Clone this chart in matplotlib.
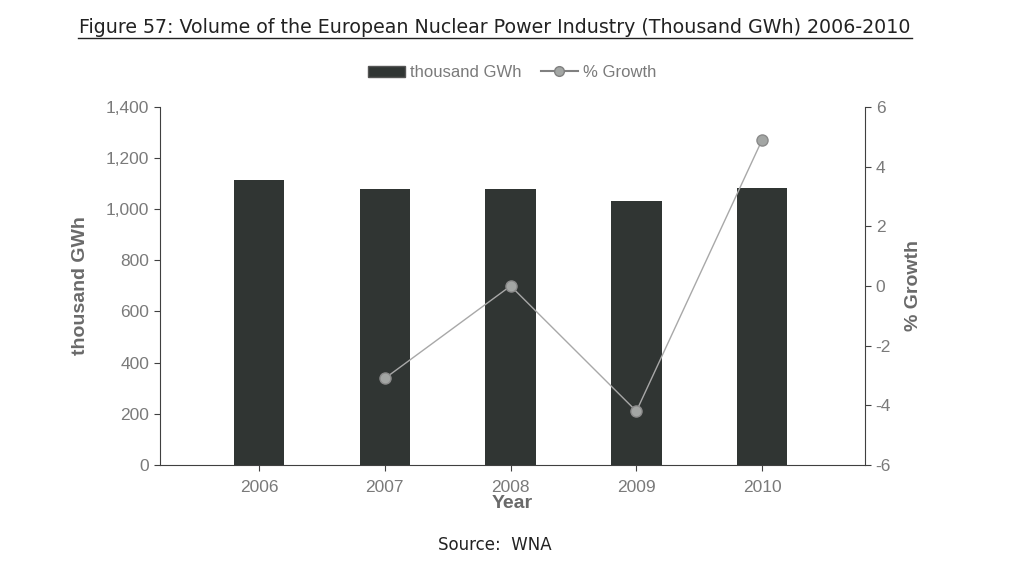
import matplotlib.pyplot as plt
from matplotlib.lines import Line2D
from matplotlib.patches import Patch
import numpy as np

plt.rcParams['axes.unicode_minus'] = False

years = ['2006', '2007', '2008', '2009', '2010']
volume = [1115, 1079, 1078, 1034, 1083]
growth_years = ['2007', '2008', '2009', '2010']
growth = [-3.1, 0.0, -4.2, 4.9]

bar_col = '#303533'
pt_col = '#a3a6a4'
txt_col = '#7a7a7a'
spine_col = '#404040'
chart_font = 'Liberation Sans'

fig = plt.figure(figsize=(10.24, 5.69), dpi=100)
ax = fig.add_axes([0.156, 0.183, 0.689, 0.629])
x = np.arange(len(years))
ax.bar(x, volume, width=0.4, color=bar_col, zorder=2)
ax.set_xlim(-0.79, 4.82)
ax.set_ylim(0, 1400)
ax.set_yticks(range(0, 1401, 200))
ax.set_yticklabels([f'{v:,}' for v in range(0, 1401, 200)])
ax.set_xticks(x)
ax.set_xticklabels(years)
ax.tick_params(colors=spine_col, labelcolor=txt_col, labelsize=12.5, length=4)
ax.tick_params(axis='x', pad=7)
for lab in ax.get_xticklabels() + ax.get_yticklabels():
    lab.set_family(chart_font)
ax.spines['top'].set_visible(False)
ax.spines['right'].set_visible(False)
for s in ('left', 'bottom'):
    ax.spines[s].set_color(spine_col)
ax.set_ylabel('thousand GWh', color='#6a6a6a', fontsize=14, fontweight='bold',
              labelpad=12, family=chart_font)
ax.set_xlabel('Year', color='#6a6a6a', fontsize=14, fontweight='bold',
              labelpad=0, family=chart_font)

ax2 = ax.twinx()
gx = [years.index(y) for y in growth_years]
ax2.plot(gx, growth, color='#a8a8a8', lw=1, marker='o', ms=8,
         markerfacecolor=pt_col, markeredgecolor='#8a8a8a', zorder=3)
ax2.set_ylim(-6, 6)
ax2.set_yticks(range(-6, 7, 2))
ax2.tick_params(colors=spine_col, labelcolor=txt_col, labelsize=12.5, length=4)
for lab in ax2.get_yticklabels():
    lab.set_family(chart_font)
for s in ('top', 'left', 'bottom'):
    ax2.spines[s].set_visible(False)
ax2.spines['right'].set_color(spine_col)
ax2.set_ylabel('% Growth', color='#6a6a6a', fontsize=14, fontweight='bold',
               labelpad=10, family=chart_font)

handles = [Patch(facecolor=bar_col, edgecolor='#555555', label='thousand GWh'),
           Line2D([], [], color='#808080', marker='o', ms=7, markerfacecolor=pt_col,
                  markeredgecolor='#808080', label='% Growth')]
leg = fig.legend(handles=handles, loc='center', bbox_to_anchor=(0.5, 0.872), ncol=2,
                 frameon=False, prop={'family': chart_font, 'size': 12},
                 handlelength=2.2, columnspacing=1.2, handletextpad=0.3)
for t in leg.get_texts():
    t.set_color(txt_col)

fig.text(0.483, 0.951, 'Figure 57: Volume of the European Nuclear Power Industry (Thousand GWh) 2006-2010',
         ha='center', va='center', fontsize=13.7, color='#222222')
fig.add_artist(Line2D([0.076, 0.891], [0.934, 0.934], color='#222222', lw=1))
fig.text(0.483, 0.043, 'Source:  WNA', ha='center', va='center', fontsize=12, color='#222222')

fig.savefig('out.png', dpi=100)
